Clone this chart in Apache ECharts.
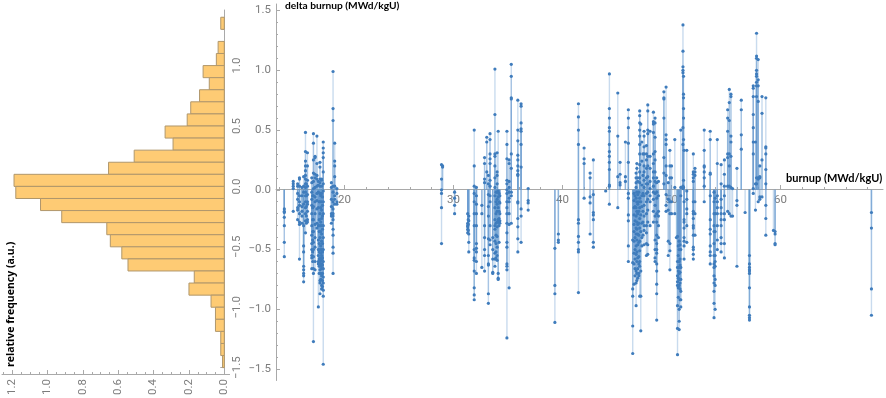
<!DOCTYPE html>
<html>
<head>
<meta charset="utf-8">
<style>html,body{margin:0;padding:0;background:#fff}#c{width:886px;height:398px}</style>
<script src="https://cdn.jsdelivr.net/npm/echarts@6/dist/echarts.min.js"></script>
</head>
<body>
<div id="c"></div>
<script>
// Histogram: bins of width 0.1; binStarts[i] is the lower edge
const binStarts = [1.3,1.1,1.0,0.9,0.8,0.7,0.6,0.5,0.4,0.3,0.2,0.1,0.0,-0.1,-0.2,-0.3,-0.4,-0.5,-0.6,-0.7,-0.8,-0.9,-1.0,-1.1,-1.2,-1.3,-1.4,-1.5];
const binFreq = [0.02,0.035,0.045,0.12,0.085,0.14,0.19,0.21,0.335,0.29,0.51,0.655,1.19,1.18,1.04,0.92,0.665,0.645,0.58,0.545,0.17,0.2,0.075,0.05,0.05,0.02,0.02,0.01];
const binWidth = 0.1;

// Scatter: each row is [burnup, delta, delta, ...]
const clusterLow = [
[14.48,-.16,-.18,-.19,-.23,-.3,-.44,-.56],
[15.3,.07,.05,.03,.01,-.18],
[15.7,.05,.03,-.03,-.08,-.15,-.17,-.25],
[15.87,.1,.09,.03,-.05,-.1,-.13,-.2,-.27,-.29,-.58],
[16.1,.02,-.05,-.14,-.18,-.22,-.28],
[16.25,.11,.03,-.02,-.12,-.3,-.47,-.52,-.64,-.67,-.7,-.72,-.77],
[16.42,.48,.32,.24,.2,.16,.12,.09,.05,.02,-.02,-.05,-.1,-.15,-.2,-.26,-.36],
[16.5,.05,-.05,-.14,-.22,-.28],
[16.6,.31,.2,.08,.03,-.04,-.1,-.12,-.18,-.25,-.27],
[17.0,.1,.06,-.02,-.08,-.13,-.2,-.3,-.38,-.45,-.5,-.55,-.57,-.66],
[17.08,-.05,-.15,-.25,-.35,-.42,-.52,-.6],
[17.15,.47,.39,.25,.14,.07,.01,-.05,-.14,-.25,-.35,-.44,-.5,-.56,-.66,-.7,-1.27],
[17.3,.28,.27,.13,.1,.02,-.06,-.1,-.2,-.29,-.4,-.48,-.6,-.67],
[17.47,.45,.22,.12,.09,.03,-.03,-.09,-.16,-.28,-.32],
[17.6,.07,.04,-.02,-.15,-.3,-.42,-.5,-.55,-.6,-.62,-.98],
[17.68,-.1,-.25,-.35,-.45,-.52,-.58,-.64,-.7],
[17.75,.23,.19,.09,.06,.03,-.03,-.1,-.2,-.3,-.4,-.5,-.57,-.6,-.62,-.67,-.76,-.78,-.87],
[17.82,-.05,-.15,-.27,-.35,-.47,-.53,-.59,-.64,-.7,-.75],
[17.9,.09,.08,.03,-.03,-.1,-.17,-.24,-.3,-.37,-.43,-.5,-.55,-.58,-.62,-.66,-.72,-.8,-.83],
[17.98,-.06,-.13,-.22,-.33,-.45,-.52,-.57,-.63,-.7,-.76,-.81],
[18.05,.4,.35,.31,.27,.15,.05,-.01,-.1,-.2,-.3,-.4,-.5,-.6,-.66,-.73,-.78,-.84,-.89,-1.46],
[18.8,.06,.02,-.08,-.14,-.2,-.22,-.28],
[18.95,.99,.68,.58,.03,-.02,-.1,-.16,-.2,-.22,-.25,-.33,-.38,-.48,-.53,-.7],
[19.1,.39,.24,.2,.11,.03,-.05,-.08,-.12],
[19.3,.01,-.03,-.1,-.12]
];
const clusterMid = [
[28.9,.21,.09,.0,-.03,-.15,-.45],
[29.0,.2,.19],
[30.1,-.02,-.07,-.13,-.2],
[31.3,-.2,-.28,-.3,-.31,-.33,-.36],
[31.35,-.25,-.29,-.34],
[31.4,-.22,-.26,-.37,-.44,-.52],
[31.9,.5,.2,.03,-.03,-.1,-.2,-.3,-.5,-.57,-.59,-.68,-.82,-.88,-.92],
[32.1,.02,-.05,-.12,-.2,-.3,-.45,-.49,-.52,-.6,-.7],
[32.6,-.13,-.2,-.65],
[32.85,.27,.22,.09,.06,-.3,-.4,-.5,-.55,-.68],
[33.05,.44,.4,.15],
[33.2,.12,.05,-.04,-.14,-.22,-.41,-.55,-.62,-.63,-.87,-.95],
[33.35,.47,.42,.3,.26,.22,.08,.03,-.05,-.1,-.3,-.42,-.46],
[33.6,-.4,-.5,-.58,-.69,-.7],
[33.8,1.01,.63,.3,.28,.2,.1,.02,-.05,-.15,-.25,-.3,-.33,-.43,-.53,-.58,-.64],
[33.9,-.02,-.1,-.2,-.28,-.38,-.45,-.52,-.57],
[34.0,.31,.15,.12,.05,-.02,-.08,-.12,-.18,-.27,-.31,-.39,-.48,-.55,-.59],
[34.1,.49,-.01,-.06,-.15,-.25,-.7,-.74,-.75],
[34.18,-.03,-.1,-.18,-.24,-.27,-.3,-.44],
[34.25,-.05,-.11,-.2,-.26,-.28],
[34.9,.49,.38,.26,.08,.05,.0,-.03,-.1,-.15,-.2,-.28,-.36,-.44,-.48,-.62,-.64,-.67,-1.24],
[35.1,.25,.22,.07,.02,-.02,-.07,-.1,-.2,-.29,-.82],
[35.3,1.05,.95,.77,.76,.3,.18,-.02,-.05,-.28],
[35.9,.75,.5,.41,.29,.25,.2,.16,.13,.12,-.1,-.11,-.24,-.31,-.41,-.52],
[36.2,.72,.7,.56,.51,.49,.38,.19,-.16,-.22,-.44],
[36.85,.01,-.09,-.11,-.17]
];
const clusterHigh = [
[39.3,-.49,-.8,-.87,-1.11],
[39.62,-.37,-.42,-.44],
[41.46,.72,.61,.5,.38,-.25,-.28,-.39,-.44,-.5,-.52,-.86],
[41.98,.35,.26,.22,-.07],
[42.53,.14,.1,-.06,-.11,-.37],
[42.83,.25,-.04,-.19,-.21,-.25,-.44,-.48],
[43.96,-.01],
[44.3,.97,.68,.6,.52,.49,.38,.32,.28,.23,.17,.04,.03,-.12],
[45.07,.81,.45,.11,-.15],
[45.28,.23,.13,.06,.04],
[45.77,.4,.11,.07],
[46.04,.67,.6,.52,.39,.23,-.03,-.07,-.21,-.26,-.47,-.6],
[46.44,-.42,-.61,-.83,-.89,-1.14,-1.37],
[46.56,-.03,-.09,-.15,-.21,-.29,-.35,-.43,-.53,-.62,-.79],
[46.65,-.05,-.14,-.26,-.4,-.5,-.58,-.66,-.72],
[46.75,.14,.1,.06,.02,-.07,-.15,-.22,-.32,-.37,-.47,-.54,-.68,-.78,-.97],
[46.82,.22,.18,-.02,-.1,-.18,-.27,-.33,-.42,-.52,-.6,-.7,-.76],
[46.9,.1,.07,-.04,-.12,-.2,-.29,-.37,-.46,-.57,-.66,-.74],
[47.0,-.02,-.1,-.18,-.28,-.38,-.44,-.56,-.62,-.7,-.72],
[47.08,.66,.62,.56,.5,.45,.38,.3,.21,.15,.1,.06,-.07,-.15,-.24,-.32,-.43,-.51,-.6,-.64,-.89],
[47.18,.55,-.1,-.21,-.35,-.68,-.89,-1.18],
[47.28,.4,.24,.04,-.05,-.14,-.28,-.4,-.47],
[47.38,.3,.12,-.03,-.18,-.27,-.38],
[47.48,.49,.45,.36,.3,.2,.15,.08,.02,-.05,-.13,-.22,-.3,-.34,-.46],
[47.7,.37,.3,.25,.18,.1,.05,-.03,-.1,-.2,-.3,-.36,-.45,-.55],
[47.82,.71,.66,.5,.47,.28,.2,.11,.05,-.02,-.08,-.17,-.27,-.46,-.54],
[48.03,.49,.28,.18,.07,.01,-.05,-.1,-.3],
[48.34,.65,.57,.55,.48,.3,.22,.15,.1,.03,-.02,-.08,-.18,-.27],
[48.49,.6,.56,.44,.32,.25,.15,.07,-.03,-.13,-.22,-.42,-.5,-.57,-.6],
[48.64,.1,.06,-.02,-.07,-.2,-.27,-.38,-.45,-.5,-.53,-.62,-.68,-.79,-.87,-1.09],
[48.8,.07,-.05,-.18,-.22,-.3,-.4],
[49.3,.82,.77,.76,.6,.27,.14,.05],
[49.5,.86,.46,.42,.38,.2,.12,-.04,-.13,-.18],
[49.7,.06,-.08,-.17,-.43,-.55],
[49.85,.33,.2,.1,-.1,-.2,-.45,-.51,-.67],
[50.0,.2,.1,-.1,-.2],
[50.3,.42,.02,-.2],
[50.45,-.4],
[50.55,-.39,-.6,-.65,-.72,-.77,-.8,-.97,-1.16,-1.38],
[50.62,-.47,-.55,-.68,-.74,-.82,-.9],
[50.7,-.43,-.5,-.6,-.65,-.7,-.75,-.8,-1.0,-1.1,-1.17],
[50.78,-.46,-.58,-.63,-.69,-.78,-.83,-.92],
[50.85,.5,.02,-.05,-.5,-.65,-.75,-.85,-.92,-.98],
[51.05,1.38,1.16,1.03,1.0,.98,.52,.38,.03,.01],
[51.1,.95,.8,.77,.68,.6,.42,.08,.02],
[51.15,.33,-.1,-.25,-.27,-.32,-.4,-.43,-.47,-.58],
[51.4,.33,-.01,-.08,-.16,-.2,-.3,-.44],
[52.0,.3,.15,.13,.1,.07,-.1,-.18,-.2,-.24,-.3,-.32,-.38,-.48,-.5,-.54,-.58],
[52.15,.18,.15,.12,-.1,-.2,-.38],
[53.0,.5,.33,.2,.19,.15,.1,.03,-.1],
[53.55,.49,.42,.14,.13,-.05,-.25,-.33,-.37,-.47,-.52,-.55,-.62],
[53.9,-.02,-.1,-.2,-.3,-.35,-.45,-.55,-.62,-.65,-.72,-.78,-.85,-.95,-1.07],
[54.0,-.07,-.2,-.35,-.55,-.6,-.64,-.75,-.8,-1.0],
[54.2,.42,.22,-.05,-.1,-.15,-.2,-.3,-.42,-.5],
[54.55,.21,.05,-.08,-.15,-.2,-.25,-.3,-.4,-.45,-.52],
[54.85,.25,.13,.03,-.05,-.2,-.25,-.45,-.57],
[55.15,.67,.6,.49,.3,.27,.03,-.18],
[55.3,.84,.73,.58,.3,.2,.03,-.2],
[55.45,.8,.78,.45,.4,.28,.02,-.22],
[55.6,.01,-.22],
[56.0,.18,-.09,-.13,-.64],
[56.4,.75,.67,.46,.34],
[56.75,-.19],
[57.15,-.55,-.62,-.65,-.67,-.68,-.7,-.82,-.98,-1.05,-1.07,-1.09],
[57.5,.87,.85,.78,.63,.52,.4,.3,.01,-.03],
[57.7,.4,.05,-.17],
[57.8,1.31,1.12,1.1,1.0,.97,.95,.9,.87,.78,.1,.05],
[57.95,1.09,.92,.87,.74,.1,.09,-.1],
[58.1,.2,.11,.1,-.06,-.08],
[58.3,.78,.64,.25,-.06],
[58.65,.77,.36,.35,.3,.17,.05,-.13,-.24,-.38],
[59.35,-.34],
[59.5,-.35,-.37,-.45,-.46],
[68.34,-.19,-.32,-.83,-1.05]
];

// Tick labels
const histFreqTicks = [0,0.2,0.4,0.6,0.8,1.0,1.2];
const histDeltaTicks = [-1.5,-1.0,-0.5,0,0.5,1.0];
const mainDeltaTicks = [-1.5,-1.0,-0.5,0,0.5,1.0,1.5];
const mainBurnupTicks = [20,30,40,50,60];

const points = [];
[clusterLow, clusterMid, clusterHigh].forEach(function (cl) {
  cl.forEach(function (row) {
    for (let i = 1; i < row.length; i++) points.push([row[0], row[i]]);
  });
});
const histData = binStarts.map(function (s, i) { return [binFreq[i], s, s + binWidth]; });

function range(a, b, step) {
  const out = [];
  const n = Math.round((b - a) / step);
  for (let i = 0; i <= n; i++) out.push(+(a + i * step).toFixed(3));
  return out;
}
const axisColor = '#a9a9a9', labelColor = '#7c7c7c', labelFont = 'Roboto';
function fmt(v) { return Number(v).toFixed(1).replace('-', '\u2212'); }

function axis(o) {
  return {
    type: 'value', gridIndex: o.grid, min: o.min, max: o.max, inverse: !!o.inverse,
    position: o.position, splitLine: { show: false }, show: o.show !== false,
    axisLine: { show: o.line !== false, onZero: !!o.onZero, lineStyle: { color: axisColor, width: 1 } },
    axisTick: { show: true, inside: true, length: o.tick, customValues: o.values, lineStyle: { color: axisColor, width: 1 } },
    axisLabel: o.labels ? {
      show: true, customValues: o.values, formatter: o.fmt || fmt, rotate: o.rotate || 0, margin: o.margin,
      color: labelColor, fontFamily: labelFont, fontSize: 11.5
    } : { show: false }
  };
}

const bMin = 13.716, bMax = 69.4, dMin = -1.596, dMax = 1.555;

const chart = echarts.init(document.getElementById('c'), null, { renderer: 'canvas' });
chart.setOption({
  animation: false,
  grid: [
    { left: 2, top: 10, width: 227.6, height: 367.7 },
    { left: 276, top: 4, width: 607, height: 376.5 },
    { left: 276, top: 188, width: 607, height: 1 }
  ],
  xAxis: [
    axis({ grid: 0, min: -0.03, max: 1.258, inverse: true, position: 'bottom', values: histFreqTicks, tick: 4, labels: true, rotate: 90, margin: 5 }),
    axis({ grid: 0, min: -0.03, max: 1.258, inverse: true, position: 'bottom', values: range(0, 1.25, 0.05), tick: 2, line: false }),
    axis({ grid: 1, min: bMin, max: bMax, position: 'bottom', show: false, values: mainBurnupTicks, tick: 0 }),
    axis({ grid: 2, min: bMin, max: bMax, position: 'bottom', values: mainBurnupTicks, tick: 4, labels: true, margin: 5, fmt: function (v) { return String(v); } }),
    axis({ grid: 2, min: bMin, max: bMax, position: 'bottom', values: range(14, 68, 2), tick: 2, line: false })
  ],
  yAxis: [
    axis({ grid: 0, min: -1.553, max: 1.46, position: 'right', onZero: true, values: histDeltaTicks, tick: 4, labels: true, rotate: 90, margin: 2 }),
    axis({ grid: 0, min: -1.553, max: 1.46, position: 'right', onZero: true, values: range(-1.5, 1.4, 0.1), tick: 2, line: false }),
    axis({ grid: 1, min: dMin, max: dMax, position: 'left', values: mainDeltaTicks, tick: 4, labels: true, margin: 5 }),
    axis({ grid: 1, min: dMin, max: dMax, position: 'left', values: range(-1.5, 1.5, 0.1), tick: 2, line: false }),
    axis({ grid: 2, min: 0, max: 1, position: 'left', show: false, values: [0], tick: 0 })
  ],
  series: [
    {
      type: 'custom', xAxisIndex: 0, yAxisIndex: 0, data: histData, silent: true, clip: false, z: 2,
      encode: { x: 0, y: [1, 2] },
      renderItem: function (params, api) {
        const a = api.coord([0, api.value(2)]);
        const b = api.coord([api.value(0), api.value(1)]);
        return {
          type: 'rect',
          shape: { x: Math.min(a[0], b[0]), y: a[1], width: Math.abs(a[0] - b[0]), height: b[1] - a[1] },
          style: { fill: '#fecb74', stroke: '#b0976c', lineWidth: 1 }
        };
      }
    },
    {
      type: 'custom', xAxisIndex: 2, yAxisIndex: 2, data: points, silent: true, z: 3,
      encode: { x: 0, y: 1 },
      renderItem: function (params, api) {
        const a = api.coord([api.value(0), 0]);
        const b = api.coord([api.value(0), api.value(1)]);
        return {
          type: 'line',
          shape: { x1: a[0], y1: a[1], x2: b[0], y2: b[1] },
          style: { stroke: '#6a9bcf', lineWidth: 1.4, opacity: 0.36 }
        };
      }
    },
    {
      type: 'scatter', xAxisIndex: 2, yAxisIndex: 2, data: points, silent: true, z: 4,
      symbol: 'circle', symbolSize: 3.2,
      itemStyle: { color: '#3f7cbc', opacity: 1 }
    }
  ],
  graphic: [
    { type: 'text', left: 285, top: 1, silent: true, style: { text: 'delta burnup (MWd/kgU)', fill: '#000', font: 'bold 10.2px Lato' } },
    { type: 'text', left: 786, top: 172.5, silent: true, style: { text: 'burnup (MWd/kgU)', fill: '#000', font: 'bold 11px Lato' } },
    { type: 'text', x: 5.5, y: 367, rotation: Math.PI / 2, silent: true, style: { text: 'relative frequency (a.u.)', fill: '#000', font: 'bold 10.5px "Open Sans"' } }
  ]
});
</script>
</body>
</html>
